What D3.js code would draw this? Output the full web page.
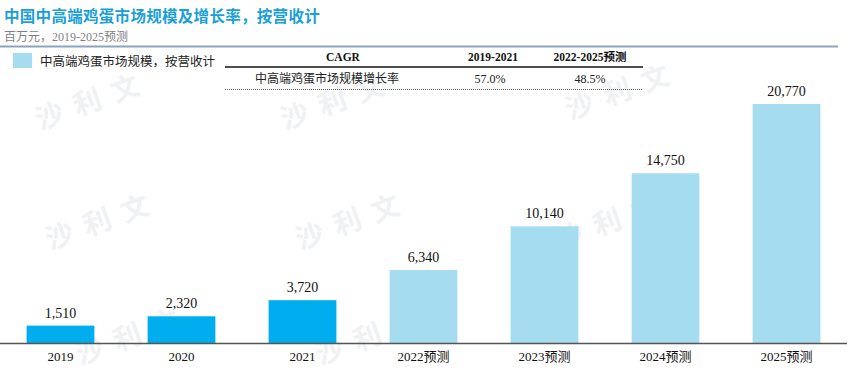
<!DOCTYPE html>
<html><head><meta charset="utf-8">
<script src="https://cdn.jsdelivr.net/npm/d3@7"></script>
<style>body{margin:0;background:#fff}svg{display:block}</style>
</head><body><svg id="c" width="851" height="372"></svg>
<script>
const categories = ["2019","2020","2021","2022预测","2023预测","2024预测","2025预测"];
const values = [1510,2320,3720,6340,10140,14750,20770];
const forecast = [false,false,false,true,true,true,true];
const title = "中国中高端鸡蛋市场规模及增长率，按营收计";
const subtitle = "百万元，2019-2025预测";
const legendLabel = "中高端鸡蛋市场规模，按营收计";
const cagrHeaders = ["CAGR","2019-2021","2022-2025预测"];
const cagrRow = ["中高端鸡蛋市场规模增长率","57.0%","48.5%"];

const svg = d3.select("#c");
const serif = "'Liberation Serif','Times New Roman','Noto Sans CJK SC',serif";
const cjk = "'Liberation Serif','Noto Sans CJK SC',sans-serif";
const cActual = "#00aeef", cFore = "#a6dcf0";

// watermarks
const wm = [[40,130],[285,130],[570,120],[50,250],[300,250],[560,250],[320,365],[80,365]];
wm.forEach(([x,y])=>{
  svg.append("text").attr("x",x).attr("y",y).attr("transform",`rotate(-20,${x},${y})`)
    .attr("fill","#f0f1f3").attr("font-size",28).attr("font-weight","bold").attr("font-family","'Noto Sans CJK SC'")
    .attr("letter-spacing",12).text("沙利文");
});

svg.append("text").attr("x",4).attr("y",22).attr("fill","#1a9fd9")
  .attr("font-size",15.5).attr("font-weight","bold").attr("font-family","'Noto Sans CJK SC',sans-serif")
  .attr("letter-spacing",0.3).text(title);
svg.append("text").attr("x",4).attr("y",41).attr("fill","#7f7f7f")
  .attr("font-size",12).attr("font-family",cjk).text(subtitle);
svg.append("line").attr("x1",0).attr("x2",838).attr("y1",46.5).attr("y2",46.5)
  .attr("stroke","#8ea3bf").attr("stroke-width",2);

// legend
svg.append("rect").attr("x",13).attr("y",53).attr("width",19).attr("height",15).attr("fill",cFore);
svg.append("text").attr("x",40).attr("y",66).attr("font-size",12.5).attr("font-family",cjk)
  .attr("fill","#222").text(legendLabel);

// CAGR table
const colX = [343,493,590];
cagrHeaders.forEach((t,i)=>svg.append("text").attr("x",colX[i]).attr("y",61)
  .attr("text-anchor","middle").attr("font-weight","bold").attr("font-size",11.5)
  .attr("font-family",cjk).attr("fill","#111").text(t));
svg.append("line").attr("x1",225).attr("x2",643).attr("y1",67).attr("y2",67)
  .attr("stroke","#111").attr("stroke-width",1.5);
const rowX = [327,490,590];
cagrRow.forEach((t,i)=>svg.append("text").attr("x",rowX[i]).attr("y",83)
  .attr("text-anchor","middle").attr("font-size",12).attr("font-family",cjk)
  .attr("fill","#222").text(t));
svg.append("line").attr("x1",225).attr("x2",643).attr("y1",89.5).attr("y2",89.5)
  .attr("stroke","#666").attr("stroke-width",1.2).attr("stroke-dasharray","1,1");

// chart
const base = 343;
const x = d3.scaleBand().domain(categories).range([0,847]).paddingInner(0.44).paddingOuter(0.22);
const y = d3.scaleLinear().domain([0,20770]).range([base,104]);

svg.selectAll("rect.bar").data(values).join("rect").attr("class","bar")
  .attr("x",(d,i)=>x(categories[i])).attr("width",x.bandwidth())
  .attr("y",d=>y(d)).attr("height",d=>base-y(d))
  .attr("fill",(d,i)=>forecast[i]?cFore:cActual);

svg.selectAll("text.val").data(values).join("text").attr("class","val")
  .attr("x",(d,i)=>x(categories[i])+x.bandwidth()/2).attr("y",d=>y(d)-8)
  .attr("text-anchor","middle").attr("font-size",14).attr("font-family",serif)
  .attr("fill","#111").text(d=>d3.format(",")(d));

const axis = d3.axisBottom(x).tickSize(0).tickPadding(9);
const g = svg.append("g").attr("transform",`translate(0,${base})`).call(axis);
g.select(".domain").attr("stroke","#555").attr("stroke-width",1.5).attr("d","M0,0.5H847");
g.selectAll("text").attr("font-size",13).attr("font-family",cjk).attr("fill","#111");
</script></body></html>
